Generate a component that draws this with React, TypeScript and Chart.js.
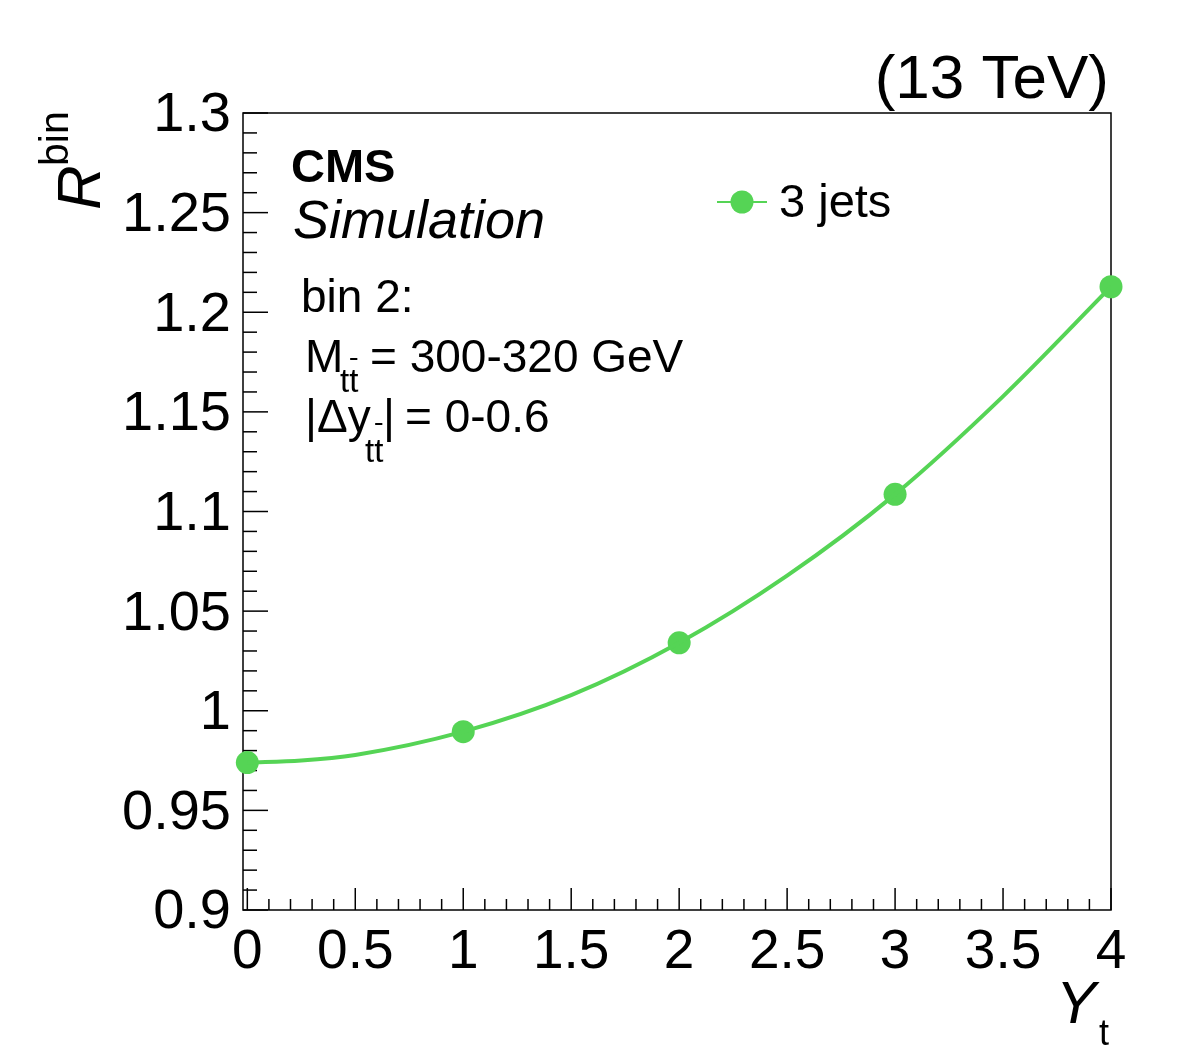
import { useEffect, useRef } from 'react';
import { Chart, registerables } from 'chart.js';

Chart.register(...registerables);

const FONT = '"Liberation Sans", Arial, Helvetica, sans-serif';
const GREEN = '#55d455';

// ---- data ----
const seriesLabel = '3 jets';
const xValues = [0, 1, 2, 3, 4];
const yValues = [0.974, 0.9895, 1.0341, 1.1086, 1.2128];
// smooth fit curve
const fitX = [0, 0.25, 0.5, 1, 1.5, 2, 2.5, 3, 3.5, 4];
const fitY = [0.974, 0.975, 0.9778, 0.9895, 1.0078, 1.0341, 1.0678, 1.1086, 1.1578, 1.2128];
// tick labels
const xTickValues = [0, 0.5, 1, 1.5, 2, 2.5, 3, 3.5, 4];
const xTickLabels = ['0', '0.5', '1', '1.5', '2', '2.5', '3', '3.5', '4'];
const yTickValues = [0.9, 0.95, 1, 1.05, 1.1, 1.15, 1.2, 1.25, 1.3];
const yTickLabels = ['0.9', '0.95', '1', '1.05', '1.1', '1.15', '1.2', '1.25', '1.3'];

const X_MIN = -0.02;
const X_MAX = 4;
const Y_MIN = 0.9;
const Y_MAX = 1.3;

export default function App() {
  const ref = useRef<HTMLCanvasElement>(null);

  useEffect(() => {
    document.body.style.margin = '0';
    const canvas = ref.current!;

    const overlay = {
      id: 'overlay',
      beforeDatasetsDraw(chart: any) {
        const { ctx, chartArea } = chart;
        const { left, right, top, bottom } = chartArea;
        const xs = chart.scales.x;
        const ys = chart.scales.y;
        ctx.save();
        ctx.strokeStyle = '#000';
        ctx.lineWidth = 1.5;
        ctx.strokeRect(left, top, right - left, bottom - top);
        // y ticks (inward, left side)
        for (let i = 0; i <= 40; i++) {
          const v = Y_MIN + i * 0.01;
          const py = ys.getPixelForValue(v);
          const major = i % 5 === 0;
          ctx.beginPath();
          ctx.moveTo(left, py);
          ctx.lineTo(left + (major ? 25 : 14), py);
          ctx.stroke();
        }
        // x ticks (inward, bottom)
        for (let i = 0; i <= 40; i++) {
          const v = i * 0.1;
          const px = xs.getPixelForValue(v);
          const major = i % 5 === 0;
          ctx.beginPath();
          ctx.moveTo(px, bottom);
          ctx.lineTo(px, bottom - (major ? 22 : 11));
          ctx.stroke();
        }
        ctx.restore();
      },
      afterDraw(chart: any) {
        const { ctx } = chart;
        ctx.save();
        ctx.fillStyle = '#000';
        ctx.textBaseline = 'alphabetic';
        ctx.textAlign = 'left';

        // energy label
        ctx.font = `62px ${FONT}`;
        ctx.textAlign = 'right';
        ctx.fillText('(13 TeV)', 1109, 98);
        ctx.textAlign = 'left';

        // CMS Simulation
        ctx.font = `bold 47px ${FONT}`;
        ctx.fillText('CMS', 291, 182);
        ctx.font = `italic 54px ${FONT}`;
        ctx.fillText('Simulation', 293, 238);

        // bin info
        ctx.font = `46px ${FONT}`;
        ctx.fillText('bin 2:', 301, 312);

        const drawTT = (x: number, baseline: number, barY: number) => {
          ctx.font = `33px ${FONT}`;
          ctx.fillText('tt', x, baseline);
          const wt = ctx.measureText('t').width;
          ctx.beginPath();
          ctx.lineWidth = 2;
          ctx.strokeStyle = '#000';
          ctx.moveTo(x + wt + 1, barY);
          ctx.lineTo(x + 2 * wt - 1, barY);
          ctx.stroke();
        };

        ctx.font = `46px ${FONT}`;
        ctx.fillText('M', 305, 372);
        drawTT(340, 392, 359);
        ctx.font = `46px ${FONT}`;
        ctx.fillText('= 300-320 GeV', 370, 372);

        ctx.font = `46px ${FONT}`;
        ctx.fillText('|\u0394y', 305, 432);
        drawTT(365, 462, 424);
        ctx.font = `46px ${FONT}`;
        ctx.fillText('|', 383, 432);
        ctx.fillText('= 0-0.6', 405, 432);

        // legend
        ctx.strokeStyle = GREEN;
        ctx.lineWidth = 2;
        ctx.beginPath();
        ctx.moveTo(717, 202);
        ctx.lineTo(767, 202);
        ctx.stroke();
        ctx.fillStyle = GREEN;
        ctx.beginPath();
        ctx.arc(742, 202, 11.5, 0, Math.PI * 2);
        ctx.fill();
        ctx.fillStyle = '#000';
        ctx.font = `47px ${FONT}`;
        ctx.fillText(chart.data.datasets[1].label, 779, 217);

        // y axis title R^bin
        ctx.save();
        ctx.translate(100, 210);
        ctx.rotate(-Math.PI / 2);
        ctx.font = `italic 62px ${FONT}`;
        ctx.fillText('R', 0, 0);
        ctx.font = `41px ${FONT}`;
        ctx.fillText('bin', 44, -32);
        ctx.restore();

        // x axis title Y_t
        ctx.font = `italic 60px ${FONT}`;
        ctx.fillText('Y', 1056, 1023);
        ctx.font = `36px ${FONT}`;
        ctx.fillText('t', 1099, 1045);

        ctx.restore();
      },
    };

    const chart = new Chart(canvas, {
      type: 'scatter',
      data: {
        datasets: [
          {
            label: 'fit',
            data: fitX.map((x, i) => ({ x, y: fitY[i] })),
            showLine: true,
            borderColor: GREEN,
            borderWidth: 4,
            pointRadius: 0,
            cubicInterpolationMode: 'monotone',
            fill: false,
          },
          {
            label: seriesLabel,
            data: xValues.map((x, i) => ({ x, y: yValues[i] })),
            showLine: false,
            backgroundColor: GREEN,
            borderColor: GREEN,
            pointRadius: 11.5,
            pointBorderWidth: 0,
            clip: false as any,
          },
        ],
      },
      options: {
        responsive: false,
        animation: false,
        devicePixelRatio: 1,
        layout: { padding: { left: 0, top: 113, right: 71, bottom: 0 } },
        plugins: {
          legend: { display: false },
          tooltip: { enabled: false },
        },
        scales: {
          x: {
            type: 'linear',
            min: X_MIN,
            max: X_MAX,
            grid: { display: false, drawTicks: false },
            border: { display: false },
            afterBuildTicks: (scale: any) => {
              scale.ticks = xTickValues.map((v) => ({ value: v }));
            },
            afterFit: (scale: any) => {
              scale.height = 147;
            },
            ticks: {
              autoSkip: false,
              maxRotation: 0,
              padding: 10,
              color: '#000',
              font: { family: FONT, size: 55 },
              callback: (v: any) => {
                const i = xTickValues.findIndex((t) => Math.abs(t - Number(v)) < 1e-9);
                return i >= 0 ? xTickLabels[i] : '';
              },
            },
          },
          y: {
            type: 'linear',
            min: Y_MIN,
            max: Y_MAX,
            grid: { display: false, drawTicks: false },
            border: { display: false },
            afterBuildTicks: (scale: any) => {
              scale.ticks = yTickValues.map((v) => ({ value: v }));
            },
            afterFit: (scale: any) => {
              scale.width = 243;
            },
            ticks: {
              autoSkip: false,
              padding: 12,
              labelOffset: 3,
              color: '#000',
              font: { family: FONT, size: 56 },
              callback: (v: any) => {
                const i = yTickValues.findIndex((t) => Math.abs(t - Number(v)) < 1e-9);
                return i >= 0 ? yTickLabels[i] : '';
              },
            },
          },
        },
      },
      plugins: [overlay],
    } as any);

    return () => chart.destroy();
  }, []);

  return (
    <canvas
      ref={ref}
      width={1182}
      height={1057}
      style={{ display: 'block', width: 1182, height: 1057 }}
    />
  );
}
